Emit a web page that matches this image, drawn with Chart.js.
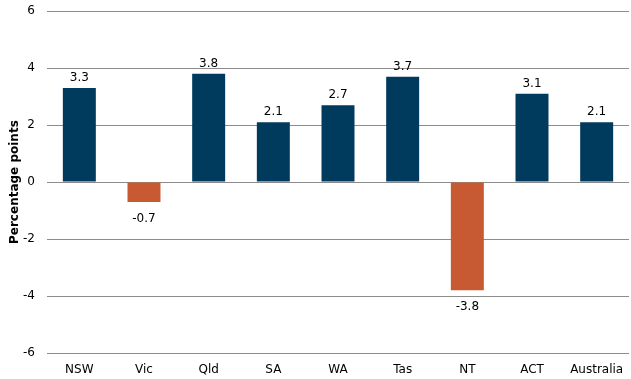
<!DOCTYPE html>
<html>
<head>
<meta charset="utf-8">
<script src="https://cdn.jsdelivr.net/npm/chart.js@4"></script>
<style>
html,body{margin:0;padding:0;background:#fff;}
#wrap{width:631px;height:379px;}
</style>
</head>
<body>
<div id="wrap"><canvas id="c" width="631" height="379"></canvas></div>
<script>
const categories = ["NSW","Vic","Qld","SA","WA","Tas","NT","ACT","Australia"];
const values = [3.3,-0.7,3.8,2.1,2.7,3.7,-3.8,3.1,2.1];
const yTicks = [-6,-4,-2,0,2,4,6];

const NAVY = "#003a5c";
const ORANGE = "#c85a33";
const FONT = "DejaVu Sans";

const labelPlugin = {
  id: 'valueLabels',
  afterDatasetsDraw(chart) {
    const ctx = chart.ctx;
    const meta = chart.getDatasetMeta(0);
    ctx.save();
    ctx.font = "12px '" + FONT + "'";
    ctx.fillStyle = "#000";
    ctx.textAlign = "center";
    ctx.textBaseline = "middle";
    meta.data.forEach((bar, i) => {
      const v = values[i];
      const y = v >= 0 ? bar.y - 10 : bar.y + 17;
      ctx.fillText(v.toFixed(1), bar.x, y);
    });
    ctx.restore();
  }
};

new Chart(document.getElementById('c'), {
  type: 'bar',
  data: {
    labels: categories,
    datasets: [{
      data: values,
      backgroundColor: values.map(v => v >= 0 ? NAVY : ORANGE),
      barPercentage: 0.51,
      categoryPercentage: 1.0
    }]
  },
  options: {
    responsive: false,
    animation: false,
    devicePixelRatio: 1,
    layout: { padding: { top: 0, right: 2, left: 6, bottom: 0 } },
    plugins: { legend: { display: false }, tooltip: { enabled: false } },
    scales: {
      x: {
        grid: { display: false, drawTicks: false },
        border: { display: false },
        afterFit(scale) { scale.height = 26; scale.paddingLeft = 0; scale.paddingRight = 0; },
        ticks: { color: "#000", font: { family: FONT, size: 12 }, padding: 10, maxRotation: 0 }
      },
      y: {
        min: -6, max: 6,
        afterBuildTicks(scale) { scale.ticks = yTicks.map(v => ({ value: v })); },
        afterFit(scale) { scale.width = 41; },
        grid: { color: "#8c8c8c", drawTicks: true, tickLength: 8, tickColor: "rgba(0,0,0,0)", lineWidth: 1 },
        border: { display: false },
        ticks: { color: "#000", font: { family: FONT, size: 12 }, padding: 4 },
        title: { display: true, text: "Percentage points", color: "#000", font: { family: FONT, size: 12, weight: "bold" }, padding: { top: 2, bottom: 0, y: 0 } }
      }
    }
  },
  plugins: [labelPlugin]
});
</script>
</body>
</html>
